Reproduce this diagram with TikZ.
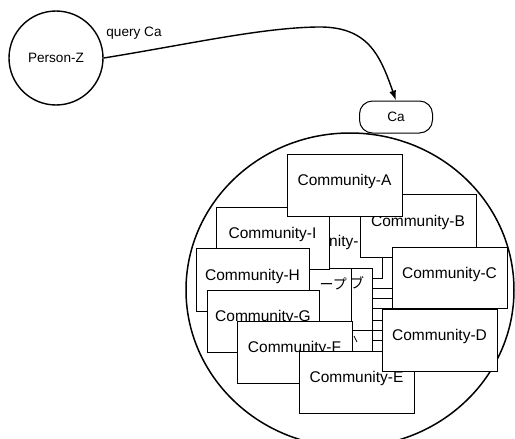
\documentclass[tikz,border=0pt]{standalone}
\usepackage{fontspec}
\setmainfont{Liberation Sans}
\newfontfamily\jpfont{Noto Sans CJK JP}
\usetikzlibrary{arrows.meta}
\begin{document}
\begin{tikzpicture}[x=1pt,y=-1pt,
  comm/.style 2 args={draw, fill=white, line width=1pt, inner sep=0pt,
    minimum width=#1pt, minimum height=#2pt,
    font=\fontsize{15.5}{18}\selectfont, text height=11pt, text depth=10pt},
  hid/.style={draw, fill=white, line width=1pt},
  frag/.style={inner sep=0pt, font=\fontsize{15.5}{18}\selectfont},
  jp/.style={inner sep=0pt, font=\jpfont\fontsize{14}{16}\selectfont},
  lbl/.style={font=\fontsize{13.6}{16}\selectfont}]
\useasboundingbox (0,0) rectangle (515,439);
\clip (0,0) rectangle (515,439);

% person and query
\node[circle, draw, line width=1.4pt, minimum size=94pt, inner sep=0pt, lbl] (pz) at (56,58) {Person-Z};
\node[lbl] (q) at (134,33) {query Ca};
\node[draw, rounded corners=13pt, minimum width=73pt, minimum height=32pt, line width=1pt, lbl] (ca) at (396,117) {Ca};
\coordinate (bend) at (317,27);
\draw[line width=1.4pt, -{Latex[length=10pt,width=7pt]}] (pz.east) .. controls (190,44) and (260,28) .. (bend) .. controls (368,26) and (380,55) .. (ca.north);

% community circle
\draw[line width=1.5pt] (350,290) ellipse [x radius=164, y radius=157];

% hidden boxes in the middle
\draw[hid] (290,205) rectangle (382,278);
\node[frag, anchor=west] (nity) at (329,242) {nity-};
\foreach \t in {288,298,308,320,330,340} \draw[hid] (372,\t) rectangle (405,395);
\draw[hid] (330,330) rectangle (372,395);
\draw[line width=0.7pt] (354,336) -- (357,342);
\draw[hid] (330,268) rectangle (372,330);
\node[jp] (p2) at (357,283) {ブ};
\draw[hid] (280,268) rectangle (351,345);
\node[jp, anchor=east] (p1) at (347,284) {ープ};

% communities
\node[comm={113}{62}] (I) at (272.5,238) {Community-I};
\node[comm={113}{63}] (H) at (252.5,279.5) {Community-H};
\node[comm={112}{62}] (G) at (263,321) {Community-G};
\node[comm={115}{62}] (F) at (294.5,352) {Community-F};
\node[comm={115}{62}] (E) at (356.5,382) {Community-E};
\node[comm={116}{63}] (B) at (418,225.5) {Community-B};
\node[comm={115}{62}] (A) at (344.5,185) {Community-A};
\node[comm={115}{61}] (C) at (449.5,277.5) {Community-C};
\node[comm={115}{62}] (D) at (439.5,340) {Community-D};
\end{tikzpicture}
\end{document}
